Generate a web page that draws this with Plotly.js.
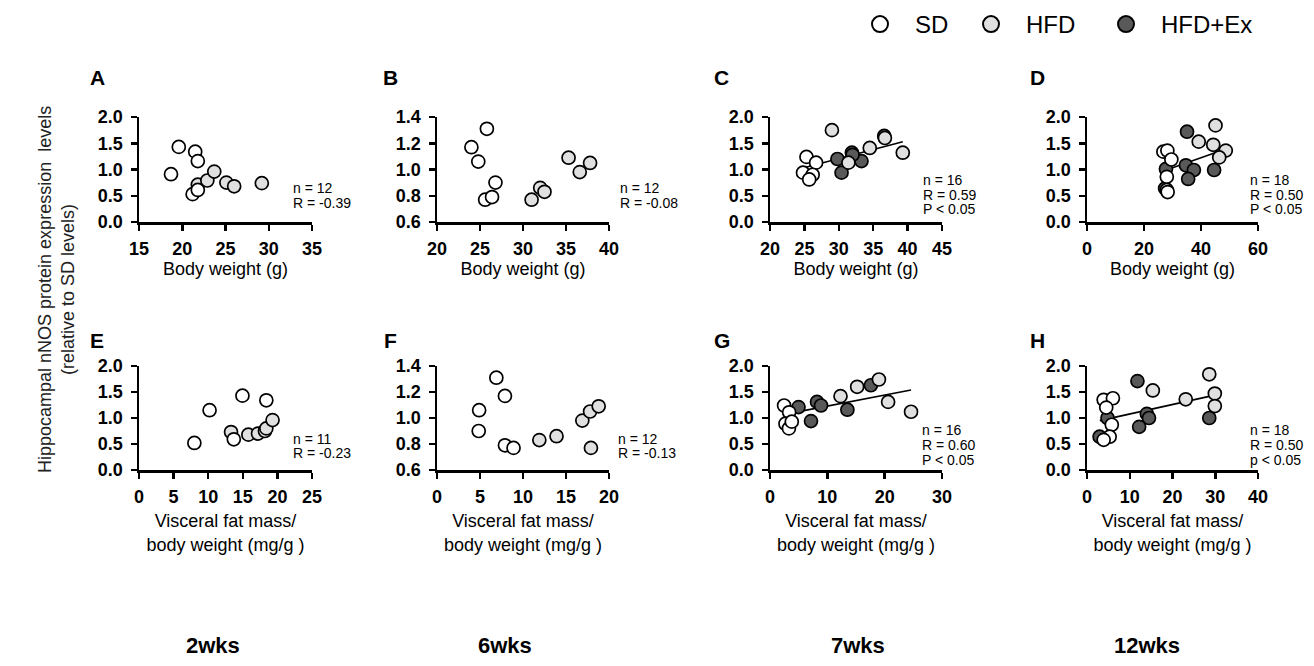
<!DOCTYPE html>
<html><head><meta charset="utf-8">
<script src="https://cdn.plot.ly/plotly-3.0.1.min.js"></script>
<style>html,body{margin:0;padding:0;background:#fff}#chart{width:1314px;height:666px}</style>
</head><body><div id="chart"></div>
<script>
// ---------- data ----------
const groupNames = ['SD', 'HFD', 'HFD+Ex'];
const weekLabels = ['2wks', '6wks', '7wks', '12wks'];
const panelLetters = ['A','B','C','D','E','F','G','H'];
const xTitleTop = 'Body weight (g)';
const xTitleBottom = 'Visceral fat mass/<br>body weight (mg/g )';
const yTitle = 'Hippocampal nNOS protein expression  levels<br>(relative to SD levels)';

// A: 2wks, body weight
const A_sd_x  = [18.7, 19.6, 21.5, 21.8, 21.2, 21.8];
const A_sd_y  = [0.91, 1.43, 1.34, 1.16, 0.53, 0.61];
const A_hfd_x = [21.8, 22.9, 23.7, 25.1, 26.0, 29.2];
const A_hfd_y = [0.71, 0.79, 0.96, 0.75, 0.68, 0.74];
const A_stats = ['n = 12', 'R = -0.39'];
// B: 6wks, body weight
const B_sd_x  = [24.0, 25.8, 24.8, 26.8, 25.6, 26.4];
const B_sd_y  = [1.17, 1.31, 1.06, 0.90, 0.77, 0.79];
const B_hfd_x = [31.0, 32.0, 32.5, 35.3, 36.6, 37.8];
const B_hfd_y = [0.77, 0.86, 0.83, 1.09, 0.98, 1.05];
const B_stats = ['n = 12', 'R = -0.08'];
// C: 7wks, body weight
const C_sd_x  = [25.3, 24.8, 26.7, 26.2, 25.7];
const C_sd_y  = [1.24, 0.94, 1.13, 0.90, 0.81];
const C_hfd_x = [29.0, 31.4, 34.5, 36.7, 39.3];
const C_hfd_y = [1.75, 1.13, 1.41, 1.60, 1.32];
const C_ex_x  = [29.8, 31.9, 30.4, 33.3, 36.6, 32.0];
const C_ex_y  = [1.20, 1.32, 0.94, 1.16, 1.64, 1.28];
const C_fit_x = [24.8, 39.3];
const C_fit_y = [1.03, 1.53];
const C_stats = ['n = 16', 'R = 0.59', 'P < 0.05'];
// D: 12wks, body weight
const D_sd_x  = [26.8, 28.2, 29.6, 28.0, 28.0, 28.3];
const D_sd_y  = [1.34, 1.36, 1.19, 0.86, 0.61, 0.57];
const D_hfd_x = [45.1, 39.2, 44.3, 48.7, 46.4];
const D_hfd_y = [1.84, 1.53, 1.47, 1.36, 1.23];
const D_ex_x  = [35.1, 27.7, 34.7, 37.5, 35.5, 44.6, 27.4];
const D_ex_y  = [1.72, 1.01, 1.08, 0.99, 0.82, 0.99, 0.64];
const D_fit_x = [26.8, 48.7];
const D_fit_y = [0.97, 1.39];
const D_stats = ['n = 18', 'R = 0.50', 'P < 0.05'];
// E: 2wks, visceral fat
const E_sd_x  = [8.0, 10.2, 14.95, 18.4, 13.7];
const E_sd_y  = [0.52, 1.15, 1.43, 1.34, 0.59];
const E_hfd_x = [13.3, 15.8, 17.2, 18.2, 18.4, 19.3];
const E_hfd_y = [0.73, 0.68, 0.70, 0.75, 0.80, 0.96];
const E_stats = ['n = 11', 'R = -0.23'];
// F: 6wks, visceral fat
const F_sd_x  = [4.9, 4.85, 6.9, 7.9, 7.9, 8.9];
const F_sd_y  = [1.06, 0.90, 1.31, 1.17, 0.79, 0.77];
const F_hfd_x = [11.9, 13.9, 16.9, 17.8, 18.8, 17.9];
const F_hfd_y = [0.83, 0.86, 0.98, 1.05, 1.09, 0.77];
const F_stats = ['n = 12', 'R = -0.13'];
// G: 7wks, visceral fat
const G_sd_x  = [2.46, 3.34, 2.7, 3.3, 3.8];
const G_sd_y  = [1.24, 1.11, 0.89, 0.80, 0.93];
const G_hfd_x = [12.3, 15.2, 19.0, 20.6, 24.6];
const G_hfd_y = [1.42, 1.60, 1.74, 1.31, 1.12];
const G_ex_x  = [4.98, 7.15, 8.2, 8.9, 13.5, 17.6];
const G_ex_y  = [1.21, 0.94, 1.31, 1.24, 1.16, 1.63];
const G_fit_x = [2.5, 24.6];
const G_fit_y = [1.07, 1.54];
const G_stats = ['n = 16', 'R = 0.60', 'P < 0.05'];
// H: 12wks, visceral fat
const H_sd_x  = [3.9, 6.06, 4.5, 5.8, 5.3, 3.9];
const H_sd_y  = [1.35, 1.38, 1.20, 0.87, 0.64, 0.58];
const H_hfd_x = [28.6, 15.4, 29.9, 23.1, 29.9];
const H_hfd_y = [1.84, 1.53, 1.47, 1.36, 1.23];
const H_ex_x  = [11.8, 4.8, 14.0, 14.5, 12.2, 28.6, 2.95];
const H_ex_y  = [1.71, 1.0, 1.08, 1.0, 0.83, 1.0, 0.64];
const H_fit_x = [3.0, 29.9];
const H_fit_y = [0.95, 1.44];
const H_stats = ['n = 18', 'R = 0.50', 'p < 0.05'];

// axis ranges / tick steps
const xRanges = [[15,35],[20,40],[20,45],[0,60],[0,25],[0,20],[0,30],[0,40]];
const xSteps  = [5,5,5,20,5,5,10,10];
const yRanges = [[0,2],[0.6,1.4],[0,2],[0,2],[0,2],[0.6,1.4],[0,2],[0,2]];
const ySteps  = [0.5,0.2,0.5,0.5,0.5,0.2,0.5,0.5];

// ---------- build ----------
const panels = [
  {sd:[A_sd_x,A_sd_y], hfd:[A_hfd_x,A_hfd_y], stats:A_stats},
  {sd:[B_sd_x,B_sd_y], hfd:[B_hfd_x,B_hfd_y], stats:B_stats},
  {sd:[C_sd_x,C_sd_y], hfd:[C_hfd_x,C_hfd_y], ex:[C_ex_x,C_ex_y], fit:[C_fit_x,C_fit_y], stats:C_stats},
  {sd:[D_sd_x,D_sd_y], hfd:[D_hfd_x,D_hfd_y], ex:[D_ex_x,D_ex_y], fit:[D_fit_x,D_fit_y], stats:D_stats},
  {sd:[E_sd_x,E_sd_y], hfd:[E_hfd_x,E_hfd_y], stats:E_stats},
  {sd:[F_sd_x,F_sd_y], hfd:[F_hfd_x,F_hfd_y], stats:F_stats},
  {sd:[G_sd_x,G_sd_y], hfd:[G_hfd_x,G_hfd_y], ex:[G_ex_x,G_ex_y], fit:[G_fit_x,G_fit_y], stats:G_stats},
  {sd:[H_sd_x,H_sd_y], hfd:[H_hfd_x,H_hfd_y], ex:[H_ex_x,H_ex_y], fit:[H_fit_x,H_fit_y], stats:H_stats}
];

const W = 1314, H = 666;
const FONT = 'Liberation Sans, Arial, Helvetica, sans-serif';
const colPx = [[139,312],[437,609],[770,942],[1087,1258]];
const rowPx = [[117,222],[366,470]];
const colors = {sd:'#ffffff', hfd:'#e0e0e0', ex:'#595959'};
const MS = 13;

// stat text placement (fraction of the axes domain)
const statX = [0.88, 1.05, 0.88, 0.94, 0.88, 1.04, 0.87, 0.94];
const statY2 = [[0.32, 0.18], [0.30, 0.16]];
const statY3 = [[0.40, 0.26, 0.12], [0.38, 0.24, 0.10]];
const letterX = [-0.24, -0.27, -0.28, -0.29, -0.24, -0.27, -0.28, -0.29];
const letterYpx = [77, 340];
const weekX = [213, 505, 858, 1147];
const legendCircleX = [880, 991, 1126];

const traces = [];
const layout = {
  width: W, height: H,
  margin: {l:0, r:0, t:0, b:0},
  paper_bgcolor: '#fff', plot_bgcolor: 'rgba(0,0,0,0)',
  font: {family: FONT, color: '#000'},
  showlegend: true,
  annotations: [],
  hovermode: false
};

panels.forEach((p, i) => {
  const n = i + 1;
  const r = Math.floor(i / 4);
  const xa = 'x' + (n === 1 ? '' : n), ya = 'y' + (n === 1 ? '' : n);
  const xkey = 'xaxis' + (n === 1 ? '' : n), ykey = 'yaxis' + (n === 1 ? '' : n);
  const col = colPx[i % 4], row = rowPx[r];
  const axCommon = {showline:true, linewidth:2.5, linecolor:'#000', ticks:'outside', ticklen:6,
    tickwidth:2.5, tickcolor:'#000', showgrid:false, zeroline:false, fixedrange:true,
    tickfont:{family:FONT, size:18, weight:'bold', color:'#000'}, automargin:false};
  layout[xkey] = Object.assign({}, axCommon, {
    domain:[col[0]/W, col[1]/W], anchor: ya, range: xRanges[i], tick0: xRanges[i][0], dtick: xSteps[i],
    ticklabelstandoff: 3,
    title:{text: r === 0 ? xTitleTop : xTitleBottom, font:{family:FONT, size:18, color:'#000'}, standoff: r === 0 ? 5 : 9}
  });
  layout[ykey] = Object.assign({}, axCommon, {
    domain:[1 - row[1]/H, 1 - row[0]/H], anchor: xa, range: yRanges[i], tick0: yRanges[i][0], dtick: ySteps[i],
    tickformat:'.1f', ticklabelstandoff: 4
  });
  if (p.fit) traces.push({x:p.fit[0], y:p.fit[1], xaxis:xa, yaxis:ya, mode:'lines',
    line:{color:'#000', width:1.6}, showlegend:false, hoverinfo:'skip', cliponaxis:false});
  [['ex', 2], ['hfd', 1], ['sd', 0]].forEach(([k, gi]) => {
    if (!p[k]) return;
    traces.push({x:p[k][0], y:p[k][1], xaxis:xa, yaxis:ya, mode:'markers', name:groupNames[gi],
      marker:{size:MS, color:colors[k], line:{color:'#000', width:1.7}}, showlegend:false, cliponaxis:false});
  });
  // stats text
  const ys = p.stats.length === 3 ? statY3[r] : statY2[r];
  p.stats.forEach((t, j) => layout.annotations.push({text:t, xref:xa + ' domain', yref:ya + ' domain',
    x: statX[i], y: ys[j], xanchor:'left', yanchor:'middle', showarrow:false,
    font:{family:FONT, size:14, color:'#000'}}));
  // panel letter
  layout.annotations.push({text:'<b>' + panelLetters[i] + '</b>', xref:xa + ' domain', yref:'paper',
    x: letterX[i], y: 1 - letterYpx[r]/H, xanchor:'center', yanchor:'middle', showarrow:false,
    font:{family:FONT, size:21, color:'#000'}});
});

// week labels
weekLabels.forEach((w, i) => layout.annotations.push({text:'<b>' + w + '</b>', xref:'paper', yref:'paper',
  x: weekX[i]/W, y: 1 - 645/H, xanchor:'center', yanchor:'middle', showarrow:false,
  font:{family:FONT, size:22, color:'#000'}}));
// shared y title
layout.annotations.push({text: yTitle, xref:'paper', yref:'paper', x: 56/W, y: 1 - 290/H,
  xanchor:'center', yanchor:'middle', textangle:-90, showarrow:false,
  font:{family:FONT, size:18, color:'#222'}});

// legend: one small legend per group so each entry sits where it does in the reference
[['sd',0],['hfd',1],['ex',2]].forEach(([k, gi]) => {
  const lname = gi === 0 ? 'legend' : 'legend' + (gi + 1);
  traces.push({x:[null], y:[null], mode:'markers', name: groupNames[gi], legend: lname,
    marker:{size:20, color:colors[k], line:{color:'#000', width:2}}, showlegend:true, hoverinfo:'skip'});
  layout[lname] = {orientation:'h', x: (legendCircleX[gi] - 35)/W, xanchor:'left', y: 1 - 2/H, yanchor:'top',
    font:{size:24, family:FONT, color:'#000'}, itemwidth: 60, bgcolor:'rgba(0,0,0,0)', borderwidth:0};
});

Plotly.newPlot('chart', traces, layout, {displayModeBar:false, staticPlot:true});
</script></body></html>
